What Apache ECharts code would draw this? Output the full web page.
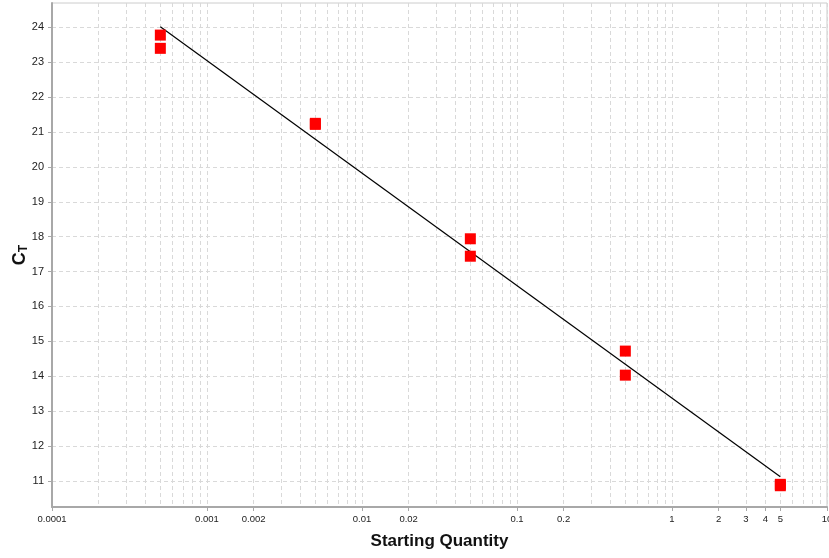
<!DOCTYPE html>
<html>
<head>
<meta charset="utf-8">
<script src="https://cdn.jsdelivr.net/npm/echarts@6/dist/echarts.min.js"></script>
<style>
html,body{margin:0;padding:0;background:#fff;}
#chart{width:829px;height:558px;}
</style>
</head>
<body>
<div id="chart"></div>
<script>
// ---- data ----
var quantities = [0.0005, 0.0005, 0.005, 0.005, 0.05, 0.05, 0.5, 0.5, 5, 5];
var ctValues   = [23.78, 23.40, 21.25, 21.22, 17.94, 17.44, 14.72, 14.03, 10.90, 10.86];
var fitX = [0.0005, 5];
var fitY = [24.02, 11.12];
var xTickLabels = [0.0001, 0.001, 0.002, 0.01, 0.02, 0.1, 0.2, 1, 2, 3, 4, 5, 10];
var yTickLabels = [11, 12, 13, 14, 15, 16, 17, 18, 19, 20, 21, 22, 23, 24];
var decades = [0.0001, 0.001, 0.01, 0.1, 1];
var gridMultipliers = [1, 2, 3, 4, 5, 6, 7, 8, 9];

// ---- build ----
var gridLogValues = [];
decades.forEach(function (d) {
  gridMultipliers.forEach(function (m) { gridLogValues.push(Math.log10(d * m)); });
});
gridLogValues.push(Math.log10(10));
var labelLogValues = xTickLabels.map(function (v) { return Math.log10(v); });

var points = quantities.map(function (q, i) { return [q, ctValues[i]]; });
var fitLine = fitX.map(function (x, i) { return [x, fitY[i]]; });

var font = 'Liberation Sans, Arial, sans-serif';
var gridLine = { show: true, lineStyle: { color: '#d9d9d9', type: [4, 3], width: 1 } };

var chart = echarts.init(document.getElementById('chart'), null, { renderer: 'canvas' });
chart.setOption({
  animation: false,
  backgroundColor: '#ffffff',
  grid: { left: 52, right: 2, top: 3, bottom: 51, show: true, borderColor: '#cccccc', borderWidth: 1,
          containLabel: false, outerBoundsMode: 'none' },
  xAxis: [
    { // data axis (log scale)
      type: 'log', logBase: 10, min: 0.0001, max: 10, position: 'bottom', show: false
    },
    { // vertical grid lines
      type: 'value', min: -4, max: 1, position: 'bottom',
      axisLine: { show: false, onZero: false }, axisLabel: { show: false },
      axisTick: { show: false, customValues: gridLogValues },
      splitLine: gridLine
    },
    { // labelled ticks
      type: 'value', min: -4, max: 1, position: 'bottom',
      axisLine: { show: true, onZero: false, lineStyle: { color: '#a8a8a8', width: 2 } },
      axisTick: { show: true, length: 4, customValues: labelLogValues, lineStyle: { color: '#a8a8a8' } },
      axisLabel: {
        customValues: labelLogValues, margin: 7, fontSize: 9.5, color: '#222', fontFamily: font,
        formatter: function (v) { return String(Number(Math.pow(10, v).toPrecision(6))); }
      },
      splitLine: { show: false },
      name: 'Starting Quantity', nameLocation: 'middle', nameGap: 26, nameMoveOverlap: false,
      nameTextStyle: { fontSize: 17, fontWeight: 'bold', color: '#111', fontFamily: font }
    }
  ],
  yAxis: {
    type: 'value', min: 10.25, max: 24.7,
    axisLine: { show: true, onZero: false, lineStyle: { color: '#a8a8a8', width: 2 } },
    axisTick: { show: true, length: 4, customValues: yTickLabels, lineStyle: { color: '#a8a8a8' } },
    axisLabel: { customValues: yTickLabels, margin: 8, fontSize: 11, color: '#222', fontFamily: font },
    splitLine: gridLine,
    name: '{c|C}{t|T}', nameLocation: 'middle', nameGap: 21, nameMoveOverlap: false,
    nameTextStyle: {
      rich: {
        c: { fontSize: 18, fontWeight: 'bold', color: '#111', fontFamily: font, lineHeight: 22 },
        t: { fontSize: 12, fontWeight: 'bold', color: '#111', fontFamily: font, lineHeight: 22, padding: [7, 0, 0, 0] }
      }
    }
  },
  series: [
    {
      type: 'line', xAxisIndex: 0, data: fitLine, symbol: 'none',
      lineStyle: { color: '#000', width: 1.2 }, z: 2
    },
    {
      type: 'scatter', xAxisIndex: 0, data: points, symbol: 'rect', symbolSize: 11,
      itemStyle: { color: '#ff0000', opacity: 1 }, z: 3
    }
  ]
});
</script>
</body>
</html>
